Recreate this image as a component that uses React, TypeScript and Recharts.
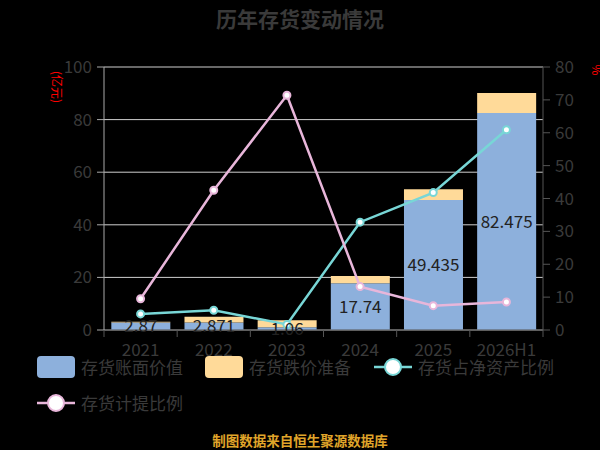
import { ComposedChart, Bar, Line, XAxis, YAxis, CartesianGrid, LabelList } from 'recharts';

const YEARS = ['2021', '2022', '2023', '2024', '2025', '2026H1'];
// 存货账面价值 (亿元)
const BOOK_VALUE = [2.87, 2.871, 1.06, 17.74, 49.435, 82.475];
// 存货跌价准备 (亿元)
const RESERVE = [0.3, 2.12, 2.64, 2.8, 4.1, 7.6];
// 存货占净资产比例 (%)
const NET_ASSET_RATIO = [4.9, 6.0, 1.7, 32.8, 41.8, 60.9];
// 存货计提比例 (%)
const PROVISION_RATIO = [9.5, 42.5, 71.4, 13.2, 7.4, 8.5];

const LEFT_TICKS = [0, 20, 40, 60, 80, 100];
const RIGHT_TICKS = [0, 10, 20, 30, 40, 50, 60, 70, 80];

const COLORS = {
  book: '#8db0dc',
  reserve: '#ffda99',
  netAsset: '#78d6d6',
  provision: '#e8b6da',
  text: '#3a3a3a',
};

const FONT = '"Noto Sans CJK SC", "Noto Sans", sans-serif';

const data = YEARS.map((y, i) => ({
  year: y,
  book: BOOK_VALUE[i],
  reserve: RESERVE[i],
  netAsset: NET_ASSET_RATIO[i],
  provision: PROVISION_RATIO[i],
}));

const XTick = (props: any) => {
  const { x, y, payload, index } = props;
  const off = payload.offset ?? 36.6;
  return (
    <g>
      <line x1={x - off} y1={y} x2={x - off} y2={y + 7} stroke="#555" />
      {index === YEARS.length - 1 && <line x1={x + off} y1={y} x2={x + off} y2={y + 7} stroke="#555" />}
      <text x={x} y={y + 18} textAnchor="middle" dominantBaseline="central" fill={COLORS.text} fontSize={17} fontFamily={FONT}>
        {payload.value}
      </text>
    </g>
  );
};

const LegendItem = ({ left, top, label, color, kind }: { left: number; top: number; label: string; color: string; kind: 'rect' | 'line' }) => (
  <div style={{ position: 'absolute', left, top, display: 'flex', alignItems: 'center', height: 22 }}>
    {kind === 'rect' ? (
      <div style={{ width: 38, height: 22, background: color, borderRadius: 4 }} />
    ) : (
      <svg width={38} height={22}>
        <line x1={0} y1={11} x2={38} y2={11} stroke={color} strokeWidth={2.5} />
        <circle cx={19} cy={11} r={8} fill="#fff" stroke={color} strokeWidth={2} />
      </svg>
    )}
    <span style={{ marginLeft: 6, fontSize: 17, color: COLORS.text, fontFamily: FONT, lineHeight: '22px' }}>{label}</span>
  </div>
);

export default function App() {
  return (
    <div style={{ position: 'absolute', left: 0, top: 0, width: 600, height: 450, background: '#000', overflow: 'hidden', fontFamily: FONT }}>
      <ComposedChart width={600} height={450} data={data} margin={{ top: 67, right: 0, left: 0, bottom: 90 }} barCategoryGap="10%">
        <CartesianGrid yAxisId="left" vertical={false} stroke="#cfcfcf" />
        <XAxis
          dataKey="year"
          height={30}
          tickLine={false}
          tickSize={0}
          tickMargin={0}
          axisLine={{ stroke: '#555' }}
          tick={<XTick />}
          interval={0}
        />
        <YAxis
          yAxisId="left"
          width={104}
          domain={[0, 100]}
          ticks={LEFT_TICKS}
          tickSize={7}
          tickMargin={5}
          axisLine={{ stroke: '#aaa' }}
          tickLine={{ stroke: '#aaa' }}
          tick={{ fill: COLORS.text, fontSize: 17, fontFamily: FONT }}
        />
        <YAxis
          yAxisId="right"
          orientation="right"
          width={57}
          domain={[0, 80]}
          ticks={RIGHT_TICKS}
          tickSize={7}
          tickMargin={5}
          axisLine={{ stroke: '#555' }}
          tickLine={{ stroke: '#555' }}
          tick={{ fill: COLORS.text, fontSize: 17, fontFamily: FONT }}
        />
        <Bar yAxisId="left" dataKey="book" stackId="inv" fill={COLORS.book} isAnimationActive={false}>
          <LabelList dataKey="book" position="center" fill="#222" fontSize={17} fontFamily={FONT} />
        </Bar>
        <Bar yAxisId="left" dataKey="reserve" stackId="inv" fill={COLORS.reserve} isAnimationActive={false} />
        <Line
          yAxisId="right"
          dataKey="netAsset"
          stroke={COLORS.netAsset}
          strokeWidth={2.5}
          dot={{ r: 3.5, fill: '#fff', stroke: COLORS.netAsset, strokeWidth: 2 }}
          isAnimationActive={false}
        />
        <Line
          yAxisId="right"
          dataKey="provision"
          stroke={COLORS.provision}
          strokeWidth={2.5}
          dot={{ r: 3.5, fill: '#fff', stroke: COLORS.provision, strokeWidth: 2 }}
          isAnimationActive={false}
        />
      </ComposedChart>

      <svg width={600} height={450} style={{ position: 'absolute', left: 0, top: 0, pointerEvents: 'none' }}>
        <text x={300} y={18} textAnchor="middle" dominantBaseline="central" fill={COLORS.text} fontSize={21} fontWeight="bold" fontFamily={FONT}>
          历年存货变动情况
        </text>
        <text x={57} y={87} textAnchor="middle" dominantBaseline="central" fill="#ff0000" fontSize={12} fontFamily={FONT} transform="rotate(90 57 87)">
          (亿元)
        </text>
        <text x={597} y={70} textAnchor="middle" dominantBaseline="central" fill="#ff0000" fontSize={12} fontFamily={FONT} transform="rotate(90 597 70)">
          %
        </text>
        <text x={300} y={440} textAnchor="middle" dominantBaseline="central" fill="#e0a52a" fontSize={13.5} fontWeight="bold" fontFamily={FONT}>
          制图数据来自恒生聚源数据库
        </text>
      </svg>

      <LegendItem left={37} top={356} label="存货账面价值" color={COLORS.book} kind="rect" />
      <LegendItem left={205} top={356} label="存货跌价准备" color={COLORS.reserve} kind="rect" />
      <LegendItem left={374} top={356} label="存货占净资产比例" color={COLORS.netAsset} kind="line" />
      <LegendItem left={37} top={392} label="存货计提比例" color={COLORS.provision} kind="line" />
    </div>
  );
}
